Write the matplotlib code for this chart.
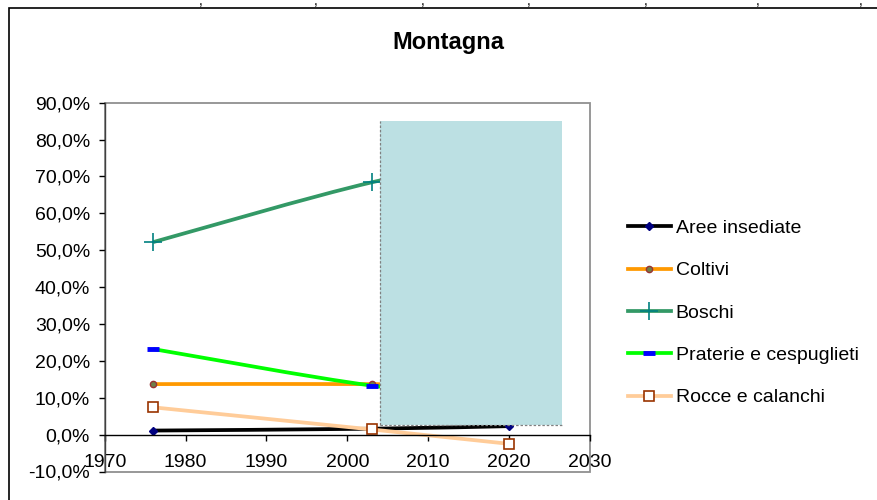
import matplotlib
matplotlib.use("Agg")
import matplotlib.pyplot as plt
import numpy as np
from matplotlib.path import Path
from matplotlib.patches import PathPatch, Rectangle
from matplotlib.lines import Line2D
from matplotlib.ticker import FuncFormatter, MultipleLocator

plt.rcParams['font.family'] = ['Liberation Sans', 'DejaVu Sans']

# data (percent of surface, Montagna)
anni = [1976, 2003, 2020]
aree_insediate = [1.1, 1.6, 2.3]
coltivi = [13.7, 13.7, 13.2]
boschi = [52.2, 68.4, 74.5]
praterie = [23.2, 13.3, 10.5]
rocce = [7.4, 1.4, -2.5]

serie = ["Aree insediate", "Coltivi", "Boschi", "Praterie e cespuglieti", "Rocce e calanchi"]
valori = [aree_insediate, coltivi, boschi, praterie, rocce]

# shaded projection box (years, percent)
box_x = (2004, 2026.6)
box_y = (2.7, 85.0)

stili = [
    dict(color="black", marker="D", ms=4, mfc="#000080", mec="#000080", mew=1),
    dict(color="#FF9900", marker="o", ms=4.5, mfc="#6E7F4A", mec="#993333", mew=1),
    dict(color="#339966", marker="+", ms=13, mfc="#008080", mec="#008080", mew=1.2),
    dict(color="#00FF00", marker="_", ms=8, mfc="#0000FF", mec="#0000FF", mew=3.5),
    dict(color="#FFCC99", marker="s", ms=6.5, mfc="white", mec="#993300", mew=1.2),
]


def smooth_path(x, y):
    # Excel-like smoothed line: cubic bezier with catmull-rom control points
    p = np.column_stack([x, y]).astype(float)
    n = len(p)
    verts = [p[0]]
    codes = [Path.MOVETO]
    for i in range(n - 1):
        p0 = p[i - 1] if i > 0 else p[i]
        p3 = p[i + 2] if i + 2 < n else p[i + 1]
        c1 = p[i] + (p[i + 1] - p0) / 6.0
        c2 = p[i + 1] - (p3 - p[i]) / 6.0
        verts += [c1, c2, p[i + 1]]
        codes += [Path.CURVE4] * 3
    return Path(verts, codes)


W, H = 877, 500
fig = plt.figure(figsize=(W / 100, H / 100), dpi=100)
ax = fig.add_axes([104.7 / W, 28.5 / H, (590 - 104.7) / W, (471.5 - 102.7) / H])

lw = 2.7
for vals, st in zip(valori, stili):
    ax.add_patch(PathPatch(smooth_path(anni, vals), fill=False,
                           edgecolor=st["color"], lw=lw, zorder=2,
                           capstyle="butt", joinstyle="round"))
    ax.plot(anni, vals, linestyle="none", marker=st["marker"], ms=st["ms"],
            mfc=st["mfc"], mec=st["mec"], mew=st["mew"], zorder=2.5)

ax.add_patch(Rectangle((box_x[0], box_y[0]), box_x[1] - box_x[0], box_y[1] - box_y[0],
                       facecolor="#BCE0E3", edgecolor="none", zorder=3))
ax.plot([box_x[0], box_x[0]], [box_y[0], box_y[1]], color="#808080", lw=0.9, ls=(0, (2, 1.5)), zorder=4)
ax.plot([box_x[0], box_x[1]], [box_y[0], box_y[0]], color="#808080", lw=0.9, ls=(0, (2, 1.5)), zorder=4)

ax.set_xlim(1970, 2030)
ax.set_ylim(-10, 90)
ax.xaxis.set_major_locator(MultipleLocator(10))
ax.yaxis.set_major_locator(MultipleLocator(10))
ax.yaxis.set_major_formatter(FuncFormatter(lambda v, p: f"{v:.1f}%".replace(".", ",")))

ax.spines["bottom"].set_position(("data", 0))
ax.spines["bottom"].set_color("black")
ax.spines["bottom"].set_linewidth(1.0)
ax.spines["left"].set_color("#404040")
ax.spines["left"].set_linewidth(1.0)
ax.spines["top"].set_visible(False)
ax.spines["right"].set_visible(False)
ax.add_patch(Rectangle((0, 0), 1, 1, transform=ax.transAxes, fill=False,
                       edgecolor="#909090", lw=1.3, clip_on=False, zorder=0.5))

ax.tick_params(axis="x", direction="out", length=4, width=1, pad=10, labelsize=14)
ax.tick_params(axis="y", direction="out", length=4.5, width=1, pad=6, labelsize=14)

fig.text(448 / W, 1 - 43 / H, "Montagna", ha="center", va="center",
         fontsize=17, fontweight="bold")

handles = [Line2D([], [], color=st["color"], lw=lw, marker=st["marker"], ms=st["ms"],
                  mfc=st["mfc"], mec=st["mec"], mew=st["mew"]) for st in stili]
fig.legend(handles, serie, loc="upper left", bbox_to_anchor=(628 / W, 1 - 219.5 / H),
           frameon=False, fontsize=14, handlelength=2.2, handletextpad=0.25,
           labelspacing=1.27, borderpad=0, borderaxespad=0, numpoints=1)

# outer chart frame (extends past right and bottom edges)
fig.add_artist(Rectangle((8.5 / W, -0.1), 1.2, 1 - 7.5 / H + 0.1, transform=fig.transFigure,
                         fill=False, edgecolor="black", lw=1.2))

# clipped text remnants above the frame
for xc in [201, 316, 423, 529, 646, 758, 861]:
    fig.text(xc / W, 1 - 1 / H, ",", ha="center", va="center", fontsize=10)

fig.savefig("out.png", dpi=100)
